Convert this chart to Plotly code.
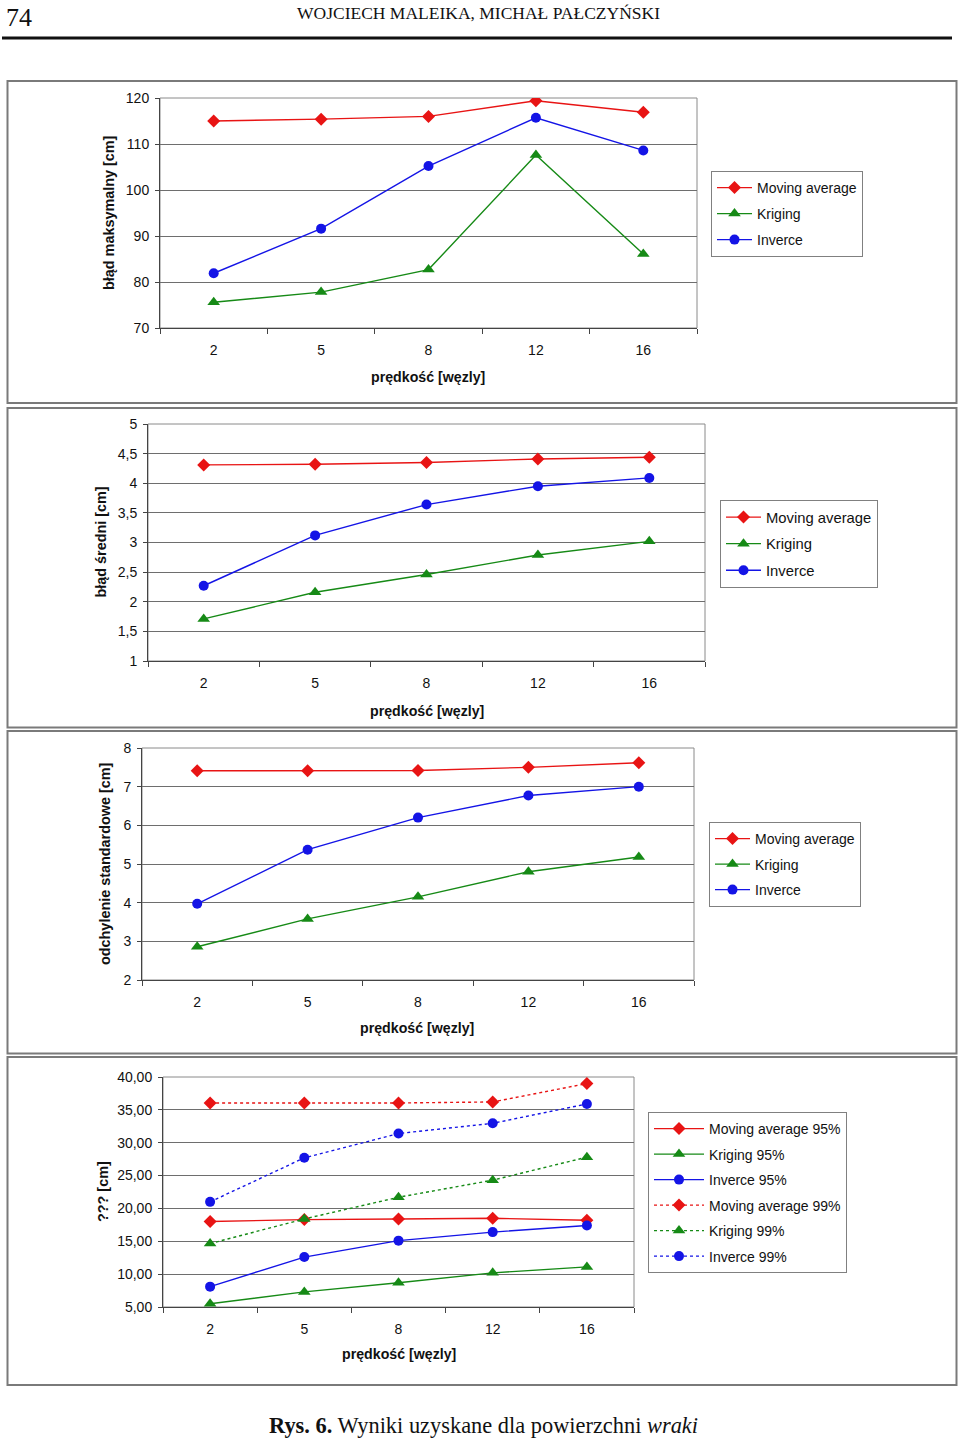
import plotly.graph_objects as go

W, H = 960, 1438

speeds = ["2", "5", "8", "12", "16"]

# Panel 1: błąd maksymalny
max_ma = [115.0, 115.4, 116.0, 119.4, 116.9]
max_kr = [75.6, 77.8, 82.7, 107.6, 86.1]
max_inv = [81.9, 91.6, 105.2, 115.7, 108.6]

# Panel 2: błąd średni
mean_ma = [4.31, 4.32, 4.35, 4.41, 4.44]
mean_kr = [1.71, 2.16, 2.46, 2.79, 3.02]
mean_inv = [2.27, 3.12, 3.64, 3.95, 4.09]

# Panel 3: odchylenie standardowe
std_ma = [7.41, 7.41, 7.42, 7.50, 7.62]
std_kr = [2.86, 3.58, 4.15, 4.80, 5.18]
std_inv = [3.97, 5.37, 6.20, 6.77, 7.00]

# Panel 4: ??? (95% / 99%)
ma95 = [18.0, 18.3, 18.4, 18.5, 18.2]
kr95 = [5.5, 7.3, 8.7, 10.2, 11.1]
inv95 = [8.1, 12.6, 15.1, 16.4, 17.4]
ma99 = [36.05, 36.05, 36.05, 36.2, 39.0]
kr99 = [14.65, 18.4, 21.7, 24.3, 27.8]
inv99 = [21.0, 27.7, 31.4, 32.95, 35.9]

RED, GREEN, BLUE = "#e81414", "#168a16", "#1414e6"
FONT = "Liberation Sans, Arial, sans-serif"
SERIF = "Liberation Serif, Times New Roman, serif"
MSIZE = {"diamond": 10, "triangle-up": 11, "circle": 10}


def px(x):
    return x / W


def py(y):
    return 1 - y / H


fig = go.Figure()

# panel geometry (pixels): plot x0,x1,y0(top),y1(bottom)
panels = [
    dict(x0=160, x1=697, y0=98, y1=328, yr=[70, 120], dt=10, fmt="",
         ytitle="błąd maksymalny [cm]", ytx=109, xtx=428, xty=377,
         leg=(711, 171), gap=4.8, fs=14, iw=35),
    dict(x0=148, x1=705, y0=424, y1=661, yr=[1, 5], dt=0.5, fmt="",
         ytitle="błąd średni [cm]", ytx=101, xtx=427, xty=711,
         leg=(720, 500), gap=4.3, fs=14.8, iw=35),
    dict(x0=142, x1=694, y0=748, y1=980, yr=[2, 8], dt=1, fmt="",
         ytitle="odchylenie standardowe [cm]", ytx=105, xtx=417, xty=1028,
         leg=(709, 822), gap=4.3, fs=14, iw=35),
    dict(x0=163, x1=634, y0=1077, y1=1307, yr=[5, 40], dt=5, fmt=".2f",
         ytitle="??? [cm]", ytx=103, xtx=399, xty=1354,
         leg=(648, 1112), gap=4.3, fs=14, iw=50),
]

series = [
    [("Moving average", max_ma, RED, "diamond", "solid"),
     ("Kriging", max_kr, GREEN, "triangle-up", "solid"),
     ("Inverce", max_inv, BLUE, "circle", "solid")],
    [("Moving average", mean_ma, RED, "diamond", "solid"),
     ("Kriging", mean_kr, GREEN, "triangle-up", "solid"),
     ("Inverce", mean_inv, BLUE, "circle", "solid")],
    [("Moving average", std_ma, RED, "diamond", "solid"),
     ("Kriging", std_kr, GREEN, "triangle-up", "solid"),
     ("Inverce", std_inv, BLUE, "circle", "solid")],
    [("Moving average 95%", ma95, RED, "diamond", "solid"),
     ("Kriging 95%", kr95, GREEN, "triangle-up", "solid"),
     ("Inverce 95%", inv95, BLUE, "circle", "solid"),
     ("Moving average 99%", ma99, RED, "diamond", "dot"),
     ("Kriging 99%", kr99, GREEN, "triangle-up", "dot"),
     ("Inverce 99%", inv99, BLUE, "circle", "dot")],
]

annotations = []
shapes = []
layout_extra = {}

for i, (p, ser) in enumerate(zip(panels, series)):
    n = i + 1
    xa = "xaxis" if n == 1 else f"xaxis{n}"
    ya = "yaxis" if n == 1 else f"yaxis{n}"
    xr = "x" if n == 1 else f"x{n}"
    yr = "y" if n == 1 else f"y{n}"
    lg = "legend" if n == 1 else f"legend{n}"

    for j, (name, vals, col, sym, dash) in enumerate(ser):
        fig.add_trace(go.Scatter(
            x=speeds, y=vals, name=name, mode="lines+markers",
            line=dict(color=col, width=1.4, dash=dash),
            marker=dict(symbol=sym, size=MSIZE[sym], color=col),
            xaxis=xr, yaxis=yr, legend=lg, legendgroup=f"g{n}_{j}",
        ))

    layout_extra[xa] = dict(
        domain=[px(p["x0"]), px(p["x1"])], anchor=yr, type="category",
        range=[-0.5, 4.5], tickson="boundaries", ticks="outside", ticklen=5,
        tickcolor="#444", showline=True, linecolor="#444", linewidth=1,
        showgrid=False, zeroline=False, ticklabelstandoff=9, automargin=False,
        tickfont=dict(family=FONT, size=14, color="#111"),
    )
    layout_extra[ya] = dict(
        domain=[py(p["y1"]), py(p["y0"])], anchor=xr, range=p["yr"],
        dtick=p["dt"], tick0=p["yr"][0], tickformat=p["fmt"],
        ticks="outside", ticklen=4, tickcolor="#444",
        showline=True, linecolor="#444", linewidth=1,
        showgrid=True, gridcolor="#6e6e6e", gridwidth=1, zeroline=False,
        ticklabelstandoff=3, automargin=False,
        tickfont=dict(family=FONT, size=14, color="#111"),
    )
    layout_extra[lg] = dict(
        x=px(p["leg"][0]), y=py(p["leg"][1]), xanchor="left", yanchor="top",
        bordercolor="#808080", borderwidth=1, bgcolor="white",
        tracegroupgap=p["gap"], traceorder="grouped", itemwidth=p["iw"],
        font=dict(family=FONT, size=p["fs"], color="#111"),
    )

    # plot-area border top/right
    shapes.append(dict(type="rect", xref=f"{xr} domain", yref=f"{yr} domain",
                       x0=0, x1=1, y0=0, y1=1, line=dict(color="#8a8a8a", width=1),
                       layer="below"))

    annotations.append(dict(
        x=px(p["ytx"]), y=py((p["y0"] + p["y1"]) / 2), xref="paper", yref="paper",
        text=f"<b>{p['ytitle']}</b>", textangle=-90, showarrow=False,
        font=dict(family=FONT, size=14.4, color="#111"), xanchor="center", yanchor="middle",
    ))
    annotations.append(dict(
        x=px(p["xtx"]), y=py(p["xty"]), xref="paper", yref="paper",
        text="<b>prędkość [węzly]</b>", showarrow=False,
        font=dict(family=FONT, size=14.2, color="#111"), xanchor="center", yanchor="middle",
    ))

# panel frames
for (t, b) in [(81, 403), (408, 727.5), (731, 1053.5), (1057, 1385)]:
    shapes.append(dict(type="rect", xref="paper", yref="paper",
                       x0=px(7.5), x1=px(956.5), y0=py(b), y1=py(t),
                       line=dict(color="#7a7a7a", width=2)))

# header rule
shapes.append(dict(type="line", xref="paper", yref="paper",
                   x0=px(2), x1=px(952), y0=py(38), y1=py(38),
                   line=dict(color="#111", width=3)))

annotations += [
    dict(x=px(4), y=py(17), xref="paper", yref="paper", text="74", showarrow=False,
         xanchor="left", yanchor="middle", font=dict(family=SERIF, size=26, color="#111")),
    dict(x=px(478), y=py(13), xref="paper", yref="paper",
         text="WOJCIECH MALEIKA, MICHAŁ PAŁCZYŃSKI", showarrow=False,
         xanchor="center", yanchor="middle", font=dict(family=SERIF, size=17.5, color="#111")),
    dict(x=px(483), y=py(1425), xref="paper", yref="paper",
         text="<b>Rys. 6.</b> Wyniki uzyskane dla powierzchni <i>wraki</i>", showarrow=False,
         xanchor="center", yanchor="middle", font=dict(family=SERIF, size=22.4, color="#111")),
]

fig.update_layout(
    template="none",
    width=W, height=H, margin=dict(l=0, r=0, t=0, b=0, pad=0, autoexpand=False),
    paper_bgcolor="white", plot_bgcolor="white",
    separators=", ", showlegend=True, hovermode=False,
    annotations=annotations, shapes=shapes,
    **layout_extra,
)

fig.write_html(
    "out.html",
    config={"displayModeBar": False, "staticPlot": True},
    post_script="document.body.style.margin='0px';document.body.style.padding='0px';",
)
